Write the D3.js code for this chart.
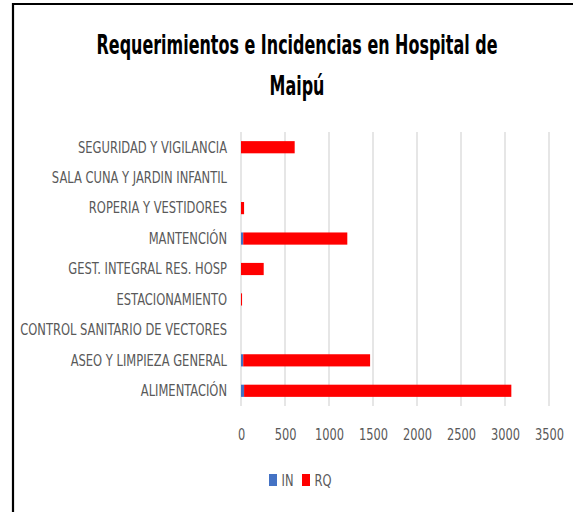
<!DOCTYPE html>
<html><head><meta charset="utf-8">
<script src="https://cdn.jsdelivr.net/npm/d3@7"></script>
<style>
html,body{margin:0;padding:0;background:#fff;}
svg{display:block;}
</style>
</head><body>
<svg id="chart" width="573" height="512"></svg>
<script>
const categories = ["SEGURIDAD Y VIGILANCIA","SALA CUNA Y JARDIN INFANTIL","ROPERIA Y VESTIDORES","MANTENCIÓN","GEST. INTEGRAL RES. HOSP","ESTACIONAMIENTO","CONTROL SANITARIO DE VECTORES","ASEO Y LIMPIEZA GENERAL","ALIMENTACIÓN"];
const inValues = [0, 0, 0, 25, 0, 0, 0, 25, 35];
const rqValues = [610, 0, 35, 1183, 258, 12, 0, 1442, 3037];
const seriesNames = ["IN","RQ"];
const seriesColors = ["#4472C4","#FF0000"];
const xTicks = [0,500,1000,1500,2000,2500,3000,3500];
const titleLines = ["Requerimientos e Incidencias en Hospital de","Maipú"];

const svg = d3.select("#chart");
const font = "'DejaVu Sans Condensed','DejaVu Sans',sans-serif";

// compress a group of texts horizontally by a common ratio so that the
// reference text reaches the target width
function condense(sel, refIndex, targetWidth){
  const nodes = sel.nodes();
  const ratio = targetWidth / nodes[refIndex].getComputedTextLength();
  nodes.forEach(n=>{
    const w = n.getComputedTextLength();
    if (w > 0) { n.setAttribute("textLength", w*ratio); n.setAttribute("lengthAdjust","spacingAndGlyphs"); }
  });
}

// frame
svg.append("path").attr("d","M13,512 V4 H573").attr("fill","none").attr("stroke","#000").attr("stroke-width",2.2);

// title (condensed with a horizontal scale transform)
const titleG = svg.append("g").selectAll("g").data(titleLines).join("g");
const title = titleG.append("text")
  .attr("x",0).attr("y",0)
  .attr("text-anchor","middle").attr("font-family",font).attr("font-weight","bold")
  .attr("font-size",26).attr("fill","#000").text(d=>d);
const tRatio = 401 / title.nodes()[0].getComputedTextLength();
titleG.attr("transform",(d,i)=>`translate(297,${54+i*41}) scale(${tRatio},1)`);

const x = d3.scaleLinear().domain([0,3500]).range([241,549]);
const y = d3.scaleBand().domain(categories).range([132,406]).paddingInner(0.6).paddingOuter(0.3);

// gridlines
svg.append("g").selectAll("line").data(xTicks).join("line")
  .attr("x1",d=>x(d)).attr("x2",d=>x(d)).attr("y1",132).attr("y2",406)
  .attr("stroke","#d9d9d9").attr("stroke-width",1.3);

// stacked bars
const table = categories.map((c,i)=>({cat:c, IN:inValues[i], RQ:rqValues[i]}));
const stack = d3.stack().keys(seriesNames)(table);
svg.append("g").selectAll("g").data(stack).join("g")
  .attr("fill",(d,i)=>seriesColors[i])
  .selectAll("rect").data(d=>d).join("rect")
  .attr("x",d=>x(d[0])).attr("width",d=>Math.max(0,x(d[1])-x(d[0])))
  .attr("y",d=>y(d.data.cat)).attr("height",y.bandwidth());

// category labels
const yAxis = svg.append("g").attr("transform","translate(236,0)")
  .call(d3.axisLeft(y).tickSize(0).tickPadding(9));
yAxis.select(".domain").remove();
const yl = yAxis.selectAll("text").attr("font-family",font).attr("font-size",16.5).attr("fill","#595959");
condense(yl, 0, 149);

// x tick labels
const xAxis = svg.append("g").attr("transform","translate(0,425.5)")
  .call(d3.axisBottom(x).tickValues(xTicks).tickSize(0).tickPadding(3).tickFormat(d3.format("d")));
xAxis.select(".domain").remove();
const xl = xAxis.selectAll("text").attr("font-family",font).attr("font-size",16).attr("fill","#595959");
condense(xl, 2, 29);

// legend
const leg = svg.append("g").selectAll("g").data(seriesNames).join("g")
  .attr("transform",(d,i)=>`translate(${269+i*33},474)`);
leg.append("rect").attr("width",8).attr("height",12).attr("fill",(d,i)=>seriesColors[i]);
const lt = leg.append("text").attr("x",12.5).attr("y",12).attr("font-family",font).attr("font-size",16)
  .attr("fill","#595959").text(d=>d);
condense(lt, 1, 17);
</script>
</body></html>
